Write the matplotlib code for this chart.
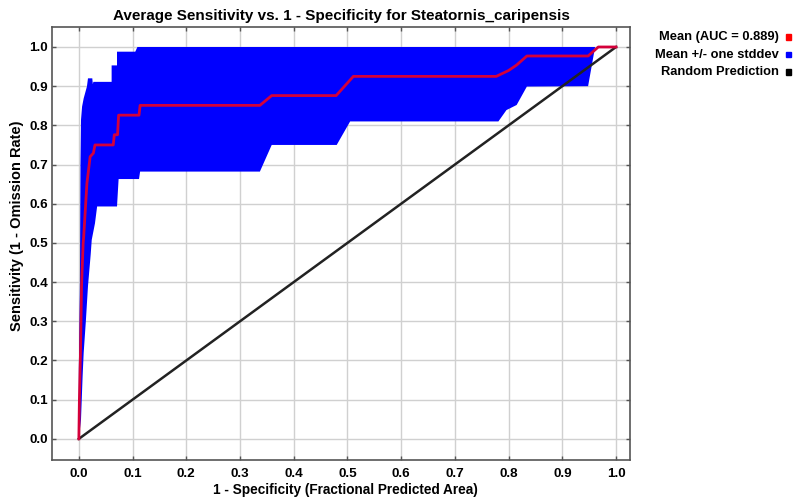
import matplotlib
matplotlib.use("Agg")
import matplotlib.pyplot as plt
import numpy as np

# ---- data ----
mean_x = [0.0, 0.001, 0.003, 0.005, 0.008, 0.009, 0.012, 0.015, 0.021, 0.027, 0.030,
          0.064, 0.066, 0.072, 0.074, 0.112, 0.114, 0.337, 0.359, 0.479, 0.511,
          0.777, 0.800, 0.815, 0.834, 0.948, 0.967, 1.0]
mean_y = [0.0, 0.10, 0.22, 0.39, 0.50, 0.516, 0.584, 0.652, 0.72, 0.729, 0.75,
          0.75, 0.776, 0.776, 0.826, 0.826, 0.851, 0.851, 0.876, 0.876, 0.925,
          0.925, 0.94, 0.954, 0.977, 0.977, 1.0, 1.0]

upper_x = [0.0, 0.0, 0.002, 0.003, 0.004, 0.006, 0.009, 0.015, 0.017, 0.025, 0.026,
           0.027, 0.061, 0.061, 0.071, 0.071, 0.105, 0.109, 0.961]
upper_y = [0.0, 0.18, 0.40, 0.70, 0.814, 0.848, 0.869, 0.899, 0.92, 0.92, 0.905,
           0.911, 0.911, 0.953, 0.953, 0.988, 0.988, 1.0, 1.0]

lower_x = [0.0, 0.004, 0.007, 0.009, 0.013, 0.017, 0.022, 0.024, 0.030, 0.034,
           0.071, 0.074, 0.112, 0.114, 0.337, 0.359, 0.480, 0.505, 0.781, 0.796,
           0.815, 0.834, 0.948, 0.961]
lower_y = [0.0, 0.05, 0.16, 0.22, 0.30, 0.39, 0.47, 0.508, 0.55, 0.593,
           0.593, 0.663, 0.663, 0.682, 0.682, 0.75, 0.75, 0.81, 0.81, 0.839,
           0.852, 0.899, 0.90, 1.0]

random_x = [0.0, 1.0]
random_y = [0.0, 1.0]

ticks = [0.0, 0.1, 0.2, 0.3, 0.4, 0.5, 0.6, 0.7, 0.8, 0.9, 1.0]
tick_labels = ["0.0", "0.1", "0.2", "0.3", "0.4", "0.5", "0.6", "0.7", "0.8", "0.9", "1.0"]

title = "Average Sensitivity vs. 1 - Specificity for Steatornis_caripensis"
xlabel = "1 - Specificity (Fractional Predicted Area)"
ylabel = "Sensitivity (1 - Omission Rate)"
legend_labels = ["Mean (AUC = 0.889)", "Mean +/- one stddev", "Random Prediction"]
legend_colors = ["#ff0000", "#0000ff", "#000000"]

# ---- figure ----
plt.rcParams['font.family'] = ['Liberation Sans', 'DejaVu Sans']
plt.rcParams['font.weight'] = 'bold'

fig = plt.figure(figsize=(7.95, 5.01), dpi=100)
ax = fig.add_axes([52/795, 1-460/501, (630-52)/795, (460-27)/501])

poly_x = list(upper_x) + list(lower_x[::-1])
poly_y = list(upper_y) + list(lower_y[::-1])
ax.fill(poly_x, poly_y, color="#0000ff", lw=0, zorder=2)
ax.plot(random_x, random_y, color="#222222", lw=1.8, zorder=3)
ax.plot(mean_x, mean_y, color="#d4003a", lw=2.0, zorder=4)

ax.set_xlim(-0.05, 1.026)
ax.set_ylim(-0.054, 1.051)
ax.set_xticks(ticks)
ax.set_xticklabels(tick_labels, fontsize=9.7, fontweight='bold')
ax.set_yticks(ticks)
ax.set_yticklabels(tick_labels, fontsize=9.7, fontweight='bold')
ax.tick_params(direction='in', length=3, width=1, color='#555555',
               top=True, right=True)
ax.tick_params(axis='x', pad=5.5)
ax.tick_params(axis='y', pad=3)
ax.grid(True, color='#d0d0d0', lw=1.0, zorder=0)
ax.set_axisbelow(True)
for s in ax.spines.values():
    s.set_color('#555555')
    s.set_linewidth(1.2)

ax.set_title(title, fontsize=11, fontweight='bold', pad=5)
ax.set_xlabel(xlabel, fontsize=9.8, fontweight='bold')
ax.xaxis.set_label_coords((345 - 52) / 578, (460 - 490) / 433)
ax.xaxis.label.set_va('center')
ax.set_ylabel(ylabel, fontsize=10.5, fontweight='bold')
ax.yaxis.set_label_coords((17 - 52) / 578, (460 - 226) / 433)
ax.yaxis.label.set_va('center')

for i, (lab, col) in enumerate(zip(legend_labels, legend_colors)):
    ypix = 37 + i * 17.5
    fig.text(779/795, 1 - ypix/501, lab, ha='right', va='center',
             fontsize=9.3, fontweight='bold')
    fig.patches.append(plt.Rectangle((786/795, 1 - (ypix + 2.5)/501), 5/795, 5/501,
                                     transform=fig.transFigure, color=col,
                                     figure=fig))

fig.savefig("out.png", dpi=100)
